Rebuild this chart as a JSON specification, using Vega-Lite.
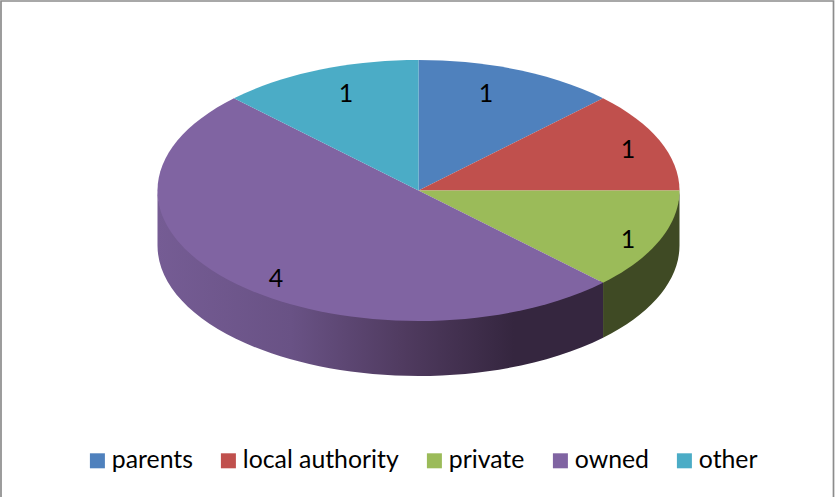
{"$schema":"https://vega.github.io/schema/vega-lite/v6.json","width":833,"height":495,"autosize":{"type":"none"},"padding":{"left":1,"top":1,"right":1,"bottom":1},"background":"white","config":{"view":{"stroke":null},"font":"Lato"},"data":{"values":[{"category":"parents","value":1},{"category":"local authority","value":1},{"category":"private","value":1},{"category":"owned","value":4},{"category":"other","value":1}]},"layer":[{"transform":[{"filter":"datum.category==='parents'"}],"mark":{"type":"point","filled":false,"opacity":1,"size":4,"shape":"M-416.5 248.5 L-416.5 -247.5 L416 -247.5 L416 248.5","stroke":"#8c8c8c","strokeWidth":1.7},"encoding":{}},{"transform":[{"filter":"datum.category==='private'"}],"mark":{"type":"point","filled":true,"opacity":1,"size":4,"shape":"M262 -61 A261 130.5 0 0 1 185.55 31.28 L185.55 89.28 A261 130.5 0 0 0 262 -3 Z","fill":"#3f4a24"},"encoding":{}},{"transform":[{"filter":"datum.category==='owned'"}],"mark":{"type":"point","filled":true,"opacity":1,"size":4,"shape":"M185.55 31.28 A261 130.5 0 0 1 1 69.5 A261 130.5 0 0 1 -260 -61 L-260 -3 A261 130.5 0 0 0 1 127.5 A261 130.5 0 0 0 185.55 89.28 Z","fill":{"gradient":"linear","x1":0,"y1":0,"x2":1,"y2":0,"stops":[{"offset":0,"color":"#755c94"},{"offset":0.3,"color":"#695285"},{"offset":0.55,"color":"#503b60"},{"offset":0.8,"color":"#35263f"},{"offset":1,"color":"#35263f"}]}},"encoding":{}},{"mark":{"type":"point","filled":true,"opacity":1,"size":4},"encoding":{"fill":{"field":"category","type":"nominal","legend":null,"scale":{"domain":["other","owned","private","local authority","parents"],"range":["#4bacc6","#8064a2","#9bbb59","#c0504d","#4f81bd"]}},"shape":{"field":"category","type":"nominal","legend":null,"scale":{"domain":["other","owned","private","local authority","parents"],"range":["M1 -58 L-183.55 -150.28 A261 130.5 0 0 1 1 -188.5 Z","M1 -58 L185.55 34.28 A261 130.5 0 0 1 1 72.5 A261 130.5 0 0 1 -260 -58 A261 130.5 0 0 1 -183.55 -150.28 Z","M1 -58 L262 -58 A261 130.5 0 0 1 185.55 34.28 Z","M1 -58 L185.55 -150.28 A261 130.5 0 0 1 262 -58 Z","M1 -58 L1 -188.5 A261 130.5 0 0 1 185.55 -150.28 Z"]}}}},{"mark":{"type":"point","filled":true,"opacity":1,"size":0,"shape":"square"},"encoding":{"color":{"field":"category","type":"nominal","scale":{"domain":["parents","local authority","private","owned","other"],"range":["#4f81bd","#c0504d","#9bbb59","#8064a2","#4bacc6"]},"legend":{"title":null,"orient":"none","legendX":84,"legendY":447,"direction":"horizontal","columns":5,"symbolType":"square","symbolSize":225,"symbolStrokeWidth":0,"labelFont":"Lato","labelFontSize":24.8,"labelColor":"#000000","labelOffset":2,"columnPadding":23,"padding":0,"symbolOpacity":1}}}},{"transform":[{"filter":"datum.category==='parents'"}],"mark":{"type":"text","font":"Lato","fontSize":25,"color":"#000000","align":"center","baseline":"middle","dx":68.5,"dy":-154.5},"encoding":{"text":{"field":"value","type":"quantitative"}}},{"transform":[{"filter":"datum.category==='local authority'"}],"mark":{"type":"text","font":"Lato","fontSize":25,"color":"#000000","align":"center","baseline":"middle","dx":210.5,"dy":-98.5},"encoding":{"text":{"field":"value","type":"quantitative"}}},{"transform":[{"filter":"datum.category==='private'"}],"mark":{"type":"text","font":"Lato","fontSize":25,"color":"#000000","align":"center","baseline":"middle","dx":210.5,"dy":-8.5},"encoding":{"text":{"field":"value","type":"quantitative"}}},{"transform":[{"filter":"datum.category==='owned'"}],"mark":{"type":"text","font":"Lato","fontSize":25,"color":"#000000","align":"center","baseline":"middle","dx":-141.5,"dy":30.5},"encoding":{"text":{"field":"value","type":"quantitative"}}},{"transform":[{"filter":"datum.category==='other'"}],"mark":{"type":"text","font":"Lato","fontSize":25,"color":"#000000","align":"center","baseline":"middle","dx":-71.5,"dy":-154.5},"encoding":{"text":{"field":"value","type":"quantitative"}}}]}
